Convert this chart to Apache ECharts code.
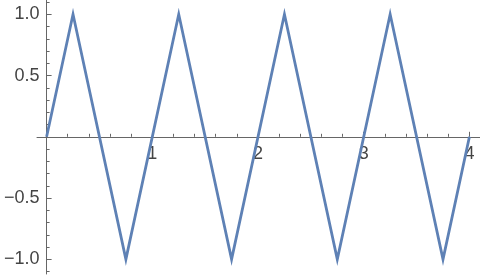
<!DOCTYPE html>
<html>
<head>
<meta charset="utf-8">
<script src="https://cdn.jsdelivr.net/npm/echarts@6/dist/echarts.min.js"></script>
<style>html,body{margin:0;padding:0;background:#fff}#c{width:480px;height:276px}</style>
</head>
<body>
<div id="c"></div>
<script>
// Data: triangle wave vertices
var xValues = [0, 0.25, 0.75, 1.25, 1.75, 2.25, 2.75, 3.25, 3.75, 4];
var yValues = [0, 1, -1, 1, -1, 1, -1, 1, -1, 0];
// Tick labels / tick positions
var xMajorTicks = [1, 2, 3, 4];
var xMinorTicks = [0.2, 0.4, 0.6, 0.8, 1.2, 1.4, 1.6, 1.8, 2.2, 2.4, 2.6, 2.8, 3.2, 3.4, 3.6, 3.8];
var yMajorTicks = [-1, -0.5, 0.5, 1];
var yMinorTicks = [-1.1, -0.9, -0.8, -0.7, -0.6, -0.4, -0.3, -0.2, -0.1, 0.1, 0.2, 0.3, 0.4, 0.6, 0.7, 0.8, 0.9, 1.1];

var points = xValues.map(function (x, i) { return [x, yValues[i]]; });

var axisColor = '#666666';
var labelColor = '#444444';
var fontFamily = 'Liberation Sans, Arial, sans-serif';

var X_MIN = -0.0908, X_MAX = 4.1, Y_MIN = -1.12, Y_MAX = 1.1167;
var GRID_LEFT = 37, GRID_W = 443, GRID_H = 274;
// offsets place the axes through the origin
var xAxisOffset = -GRID_H * (0 - Y_MIN) / (Y_MAX - Y_MIN);
var yAxisOffset = -GRID_W * (0 - X_MIN) / (X_MAX - X_MIN);

function fmtY(v) {
  var s = Math.abs(v).toFixed(1);
  return v < 0 ? '\u2212' + s : s;
}

function xAxisDef(major) {
  return {
    type: 'value', min: X_MIN, max: X_MAX, position: 'bottom', offset: xAxisOffset,
    axisLine: { show: major, onZero: false, lineStyle: { color: axisColor, width: 1 } },
    axisTick: { show: true, inside: true, length: major ? 5 : 3, customValues: major ? xMajorTicks : xMinorTicks, lineStyle: { color: axisColor } },
    axisLabel: major ? { show: true, customValues: xMajorTicks, margin: 8, color: labelColor, fontSize: 18, fontFamily: fontFamily,
      formatter: function (v) { return String(v); } } : { show: false },
    splitLine: { show: false }
  };
}
function yAxisDef(major) {
  return {
    type: 'value', min: Y_MIN, max: Y_MAX, position: 'left', offset: yAxisOffset,
    axisLine: { show: major, onZero: false, lineStyle: { color: axisColor, width: 1 } },
    axisTick: { show: true, inside: true, length: major ? 5 : 3, customValues: major ? yMajorTicks : yMinorTicks, lineStyle: { color: axisColor } },
    axisLabel: major ? { show: true, customValues: yMajorTicks, margin: 7, color: labelColor, fontSize: 18, fontFamily: fontFamily,
      padding: [3, 0, 0, 0], formatter: fmtY } : { show: false },
    splitLine: { show: false }
  };
}

var chart = echarts.init(document.getElementById('c'), null, { renderer: 'canvas' });
chart.setOption({
  animation: false,
  grid: { left: GRID_LEFT, top: 0, width: GRID_W, height: GRID_H, containLabel: false, outerBoundsMode: 'none' },
  xAxis: [xAxisDef(true), xAxisDef(false)],
  yAxis: [yAxisDef(true), yAxisDef(false)],
  series: [
    {
      type: 'line', xAxisIndex: 0, yAxisIndex: 0, data: points,
      showSymbol: false, symbol: 'none',
      lineStyle: { color: '#5E81B5', width: 2.8, join: 'miter', miterLimit: 10 },
      z: 5
    }
  ]
});
</script>
</body>
</html>
